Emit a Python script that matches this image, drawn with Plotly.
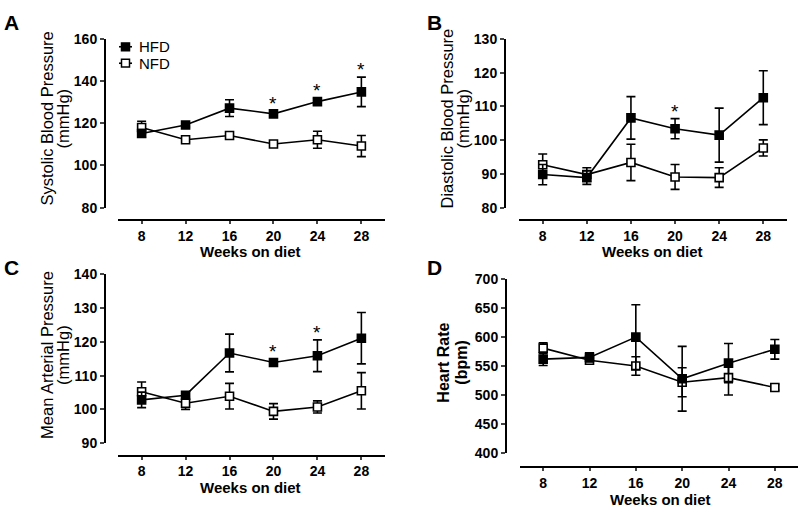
import plotly.graph_objects as go

W, H = 800, 516
FONT = "Liberation Sans, Arial, sans-serif"

weeks = [8, 12, 16, 20, 24, 28]

# Panel A - Systolic
sys_hfd = [115.2, 119.2, 127.2, 124.5, 130.3, 134.9]
sys_hfd_err = [1.8, 1.0, 4.0, 1.5, 1.5, 7.0]
sys_nfd = [118.0, 112.2, 114.2, 110.2, 112.2, 109.2]
sys_nfd_err = [3.0, 1.0, 1.5, 1.0, 4.0, 5.0]
sys_star = [20, 24, 28]

# Panel B - Diastolic
dia_hfd = [89.8, 88.9, 106.6, 103.4, 101.5, 112.6]
dia_hfd_err = [3.0, 2.0, 6.3, 3.0, 8.0, 8.0]
dia_nfd = [92.7, 89.8, 93.4, 89.1, 88.9, 97.7]
dia_nfd_err = [3.2, 2.0, 5.4, 3.7, 2.9, 2.4]
dia_star = [20]

# Panel C - Mean arterial
map_hfd = [102.8, 104.2, 116.7, 113.9, 115.9, 121.1]
map_hfd_err = [2.3, 1.0, 5.6, 1.0, 4.7, 7.6]
map_nfd = [105.2, 101.8, 103.9, 99.4, 100.7, 105.5]
map_nfd_err = [2.9, 1.8, 3.8, 2.3, 1.8, 5.4]
map_star = [20, 24]

# Panel D - Heart rate
hr_hfd = [562, 565, 600, 528, 555, 579]
hr_hfd_err = [11, 8, 56, 56, 34, 17]
hr_nfd = [581, 560, 550, 522, 530, 513]
hr_nfd_err = [9, 5, 16, 25, 30, 5]
hr_star = []

panels = [
    dict(letter="A", hfd=sys_hfd, he=sys_hfd_err, nfd=sys_nfd, ne=sys_nfd_err, star=sys_star,
         yr=[80, 160], yt=[80, 100, 120, 140, 160], ytitle=["Systolic Blood Pressure", "(mmHg)"], ybold=False,
         xdom=(118, 385), xr=[5.85, 30.15], ydom=(32, 206), yax=105, xax=219,
         letpos=(11, 15), yt1=47, yt2=63, ytc=114, xtc=(251, 251.5)),
    dict(letter="B", hfd=dia_hfd, he=dia_hfd_err, nfd=dia_nfd, ne=dia_nfd_err, star=dia_star,
         yr=[80, 130], yt=[80, 90, 100, 110, 120, 130], ytitle=["Diastolic Blood Pressure", "(mmHg)"], ybold=False,
         xdom=(519, 787), xr=[5.85, 30.15], ydom=(32, 206), yax=505, xax=219,
         letpos=(435, 15), yt1=447, yt2=463, ytc=114, xtc=(652, 251.5)),
    dict(letter="C", hfd=map_hfd, he=map_hfd_err, nfd=map_nfd, ne=map_nfd_err, star=map_star,
         yr=[90, 140], yt=[90, 100, 110, 120, 130, 140], ytitle=["Mean Arterial Pressure", "(mmHg)"], ybold=False,
         xdom=(118, 385), xr=[5.85, 30.15], ydom=(275, 449), yax=105, xax=462,
         letpos=(11, 268), yt1=47, yt2=63, ytc=358, xtc=(251, 495)),
    dict(letter="D", hfd=hr_hfd, he=hr_hfd_err, nfd=hr_nfd, ne=hr_nfd_err, star=hr_star,
         yr=[400, 700], yt=[400, 450, 500, 550, 600, 650, 700], ytitle=["Heart Rate", "(bpm)"], ybold=True,
         xdom=(520, 798), xr=[6, 30], ydom=(280, 459), yax=506, xax=474,
         letpos=(435, 268), yt1=444, yt2=462, ytc=366, xtc=(660, 507)),
]


def px(x):
    return x / W


def py(y):
    return 1 - y / H


fig = go.Figure()
layout = dict(width=W, height=H, margin=dict(l=0, r=0, t=0, b=0),
              paper_bgcolor="white", plot_bgcolor="white", showlegend=False,
              font=dict(family=FONT, color="black"))
annotations = []
shapes = []

for i, p in enumerate(panels):
    sfx = "" if i == 0 else str(i + 1)
    xa, ya = "x" + sfx, "y" + sfx
    for vals, errs, fill in [(p["nfd"], p["ne"], "white"), (p["hfd"], p["he"], "black")]:
        fig.add_trace(go.Scatter(
            x=weeks, y=vals, xaxis=xa, yaxis=ya, mode="lines+markers",
            line=dict(color="black", width=1.6),
            marker=dict(symbol="square", size=8, color=fill, line=dict(color="black", width=1.6)),
            error_y=dict(type="data", array=errs, visible=True, color="black", thickness=1.6, width=4.5),
            cliponaxis=False,
        ))
    layout["xaxis" + sfx] = dict(
        domain=[px(p["xdom"][0]), px(p["xdom"][1])], range=p["xr"], anchor="free",
        position=py(p["xax"]), tickvals=weeks, ticktext=["<b>%d</b>" % v for v in weeks],
        ticks="outside", ticklen=3, tickwidth=1.5,
        showline=True, linewidth=2, linecolor="black", showgrid=False, zeroline=False,
        tickfont=dict(family=FONT, size=14, color="black"),
    )
    layout["yaxis" + sfx] = dict(
        domain=[py(p["ydom"][1]), py(p["ydom"][0])], range=p["yr"], anchor="free",
        position=px(p["yax"]), tickvals=p["yt"], ticktext=["<b>%d</b>" % v for v in p["yt"]],
        ticks="outside", ticklen=4, tickwidth=1.5,
        showline=True, linewidth=2, linecolor="black", showgrid=False, zeroline=False,
        tickfont=dict(family=FONT, size=14, color="black"),
    )
    # panel letter
    annotations.append(dict(text="<b>%s</b>" % p["letter"], x=px(p["letpos"][0]), y=py(p["letpos"][1]),
                            xref="paper", yref="paper", showarrow=False, xanchor="center", yanchor="middle",
                            font=dict(family=FONT, size=21, color="black")))
    # y title (two lines)
    for txt, xx in [(p["ytitle"][0], p["yt1"]), (p["ytitle"][1], p["yt2"])]:
        t = "<b>%s</b>" % txt if p["ybold"] else txt
        annotations.append(dict(text=t, x=px(xx), y=py(p["ytc"]), xref="paper", yref="paper",
                                showarrow=False, textangle=-90, xanchor="center", yanchor="middle",
                                font=dict(family=FONT, size=16.5 if not p["ybold"] else 16, color="black")))
    # x title
    annotations.append(dict(text="<b>Weeks on diet</b>", x=px(p["xtc"][0]), y=py(p["xtc"][1]),
                            xref="paper", yref="paper", showarrow=False, xanchor="center", yanchor="middle",
                            font=dict(family=FONT, size=15, color="black")))
    # significance stars
    for wk in p["star"]:
        k = weeks.index(wk)
        annotations.append(dict(text="*", x=wk, y=p["hfd"][k] + p["he"][k], xref=xa, yref=ya,
                                showarrow=False, xanchor="center", yanchor="bottom", yshift=-5,
                                font=dict(family=FONT, size=19, color="black")))

# legend (panel A)
legend_items = [("HFD", "black", 40), ("NFD", "white", 57)]
for name, fill, yy in legend_items:
    shapes.append(dict(type="line", xref="paper", yref="paper", x0=px(119), x1=px(132), y0=py(yy), y1=py(yy),
                       line=dict(color="black", width=1.6)))
    shapes.append(dict(type="rect", xref="paper", yref="paper", x0=px(121.5), x1=px(129.5),
                       y0=py(yy + 4), y1=py(yy - 4), fillcolor=fill, line=dict(color="black", width=1.5)))
    annotations.append(dict(text=name, x=px(137), y=py(yy), xref="paper", yref="paper", showarrow=False,
                            xanchor="left", yanchor="middle", font=dict(family=FONT, size=15, color="black")))

layout["annotations"] = annotations
layout["shapes"] = shapes
fig.update_layout(**layout)
fig.write_html("out.html", config={"displayModeBar": False},
               post_script="document.body.style.margin='0px';document.body.style.overflow='hidden';")
